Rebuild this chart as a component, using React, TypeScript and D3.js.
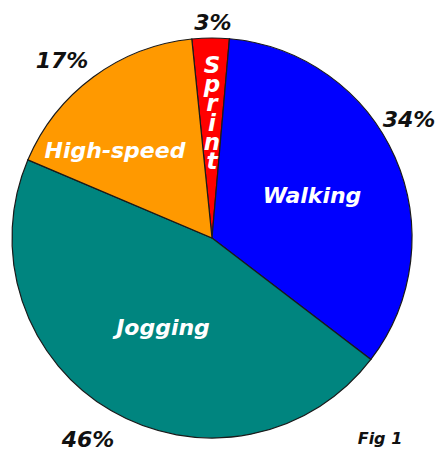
import React from "react";
import * as d3 from "d3";

// slice data, clockwise from the top
const categories = ["Sprint", "Walking", "Jogging", "High-speed"];
const shares = [3, 34, 46, 17];
const pctLabels = ["3%", "34%", "46%", "17%"];
const colors = ["#ff0000", "#0000ff", "#00857f", "#ff9900"];

const W = 439, H = 451;
const cx = 212, cy = 238, r = 200;
const start = (-5.8 * Math.PI) / 180;

const font = "'DejaVu Sans', Verdana, sans-serif";

export default function App() {
  const pie = d3.pie<number>().sort(null).startAngle(start).endAngle(start + 2 * Math.PI);
  const arcs = pie(shares);
  const arc = d3.arc<d3.PieArcDatum<number>>().innerRadius(0).outerRadius(r);

  // percent labels outside the pie (absolute spots)
  const pctPos = [[213, 30], [409, 127], [88, 447], [62, 68]];

  // inner label spots (relative to centre)
  const inner = [null, [100, -35], [-49, 97], [-97, -80]];

  const sprintLetters = categories[0].split("");

  return (
    <svg width={W} height={H} style={{ position: "absolute", left: 0, top: 0 }}>
      <rect width={W} height={H} fill="#fff" />
      <g transform={`translate(${cx},${cy})`}>
        {arcs.map((a, i) => (
          <path key={i} d={arc(a) || ""} fill={colors[i]} stroke="#1a1a1a" strokeWidth={1.2} />
        ))}
        {arcs.map((a, i) =>
          inner[i] ? (
            <text key={"in" + i} x={inner[i]![0]} y={inner[i]![1]} textAnchor="middle"
              fontFamily={font} fontWeight="bold" fontStyle="italic" fontSize={22} fill="#fff">
              {categories[i]}
            </text>
          ) : null
        )}
        <text fontFamily={font} fontWeight="bold" fontStyle="italic" fontSize={23} fill="#fff" textAnchor="middle">
          {sprintLetters.map((c, j) => (
            <tspan key={j} x={0} y={-165 + j * 19.2}>{c}</tspan>
          ))}
        </text>
      </g>
      {pctLabels.map((t, i) => (
        <text key={"p" + i} x={pctPos[i][0]} y={pctPos[i][1]} textAnchor="middle"
          fontFamily={font} fontWeight="bold" fontStyle="italic" fontSize={22} fill="#111">
          {t}
        </text>
      ))}
      <text x={380} y={444} textAnchor="middle" fontFamily={font} fontWeight="bold"
        fontStyle="italic" fontSize={16} fill="#111">Fig 1</text>
    </svg>
  );
}
